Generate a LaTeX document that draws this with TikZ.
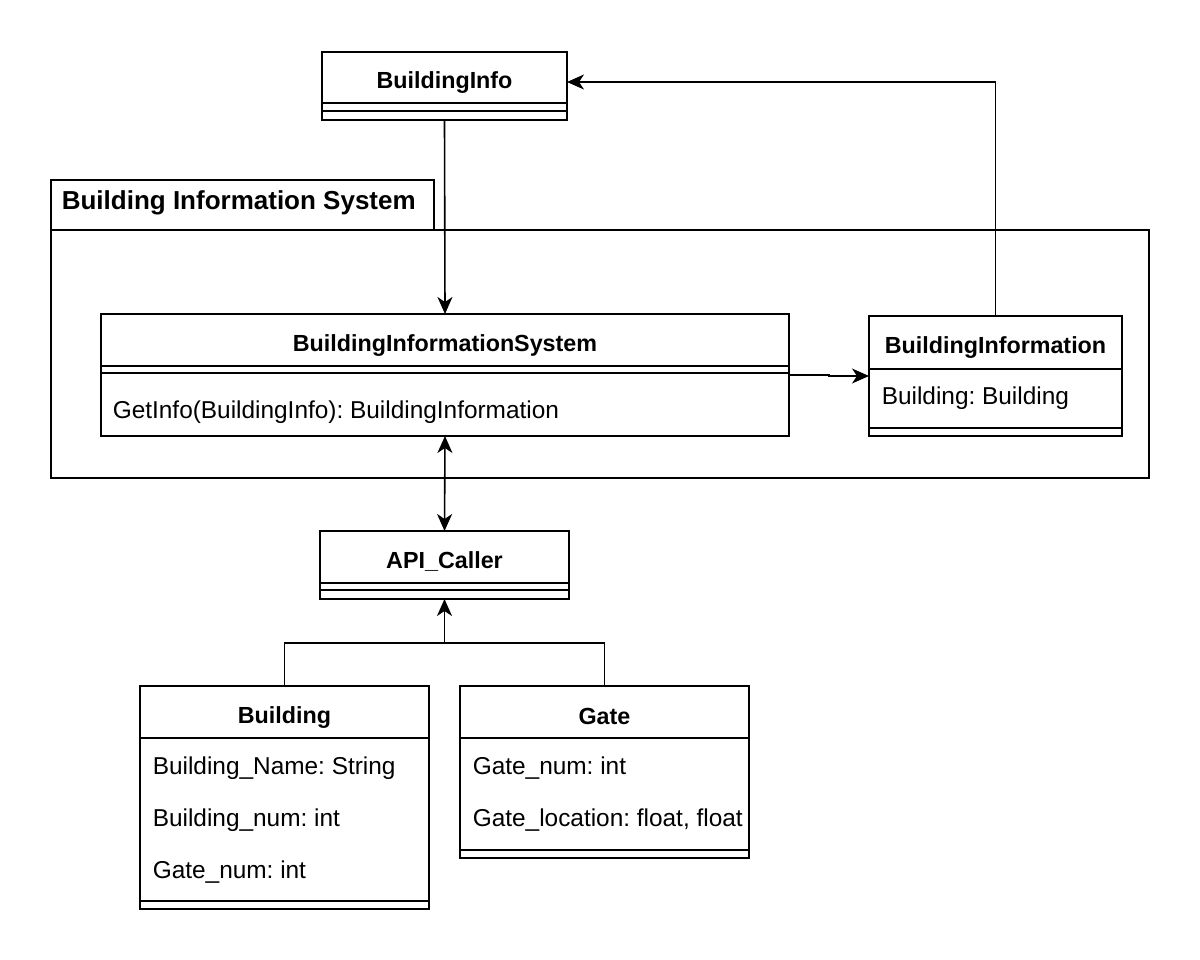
\documentclass[tikz,border=0pt]{standalone}
\usepackage{fontspec}
\setmainfont{Liberation Sans}
\usetikzlibrary{arrows.meta}
\begin{document}
\frenchspacing
\begin{tikzpicture}[x=1pt,y=-1pt, line width=1.6pt,
  box/.style={draw, rectangle, inner sep=0pt, outer sep=0pt},
  ttl/.style={font=\fontsize{23.3}{27}\selectfont\bfseries, inner sep=0pt},
  attr/.style={font=\fontsize{24.4}{28}\selectfont, anchor=west, inner sep=0pt},
  tip/.tip={Stealth[length=17pt,width=15pt,inset=5pt]},
  arr/.style={-tip}]
\useasboundingbox (0,0) rectangle (1200,960);

% package
\node[box, minimum width=383pt, minimum height=50pt] (pkgtab) at (242.5,205) {};
\node[box, minimum width=1098pt, minimum height=248pt] (pkg) at (600,354) {};
\node[ttl, anchor=west, font=\fontsize{26}{30}\selectfont\bfseries] (pkgT) at (61,203) {Building Information System};

% BuildingInfo
\node[box, minimum width=245pt, minimum height=68pt] (binfo) at (444.5,86) {};
\draw (322,103) -- (567,103);
\draw (322,111) -- (567,111);
\node[ttl] (binfoT) at (444.5,83) {BuildingInfo};

% BuildingInformationSystem
\node[box, minimum width=688pt, minimum height=122pt] (bis) at (445,375) {};
\draw (101,366) -- (789,366);
\draw (101,373) -- (789,373);
\node[ttl] (bisT) at (445,346) {BuildingInformationSystem};
\node[attr] (bisA) at (112,412) {GetInfo(BuildingInfo): BuildingInformation};

% BuildingInformation
\node[box, minimum width=253pt, minimum height=120pt] (binfoC) at (995.5,376) {};
\draw (869,369) -- (1122,369);
\draw (869,428) -- (1122,428);
\node[ttl] (binfoCT) at (995.5,348) {BuildingInformation};
\node[attr] (binfoCA) at (881,398) {Building: Building};

% API_Caller
\node[box, minimum width=249pt, minimum height=68pt] (api) at (444.5,565) {};
\draw (320,583) -- (569,583);
\draw (320,590) -- (569,590);
\node[ttl] (apiT) at (444.5,561) {API\_Caller};

% Building
\node[box, minimum width=289pt, minimum height=223pt] (bldg) at (284.5,797.5) {};
\draw (140,738) -- (429,738);
\draw (140,901) -- (429,901);
\node[ttl] (bldgT) at (284.5,718) {Building};
\node[attr] (bldgA1) at (152,768) {Building\_Name: String};
\node[attr] (bldgA2) at (152,820) {Building\_num: int};
\node[attr] (bldgA3) at (152,872) {Gate\_num: int};

% Gate
\node[box, minimum width=289pt, minimum height=172pt] (gate) at (604.5,772) {};
\draw (460,738) -- (749,738);
\draw (460,850) -- (749,850);
\node[ttl] (gateT) at (604.5,716) {Gate};
\node[attr] (gateA1) at (472,768) {Gate\_num: int};
\node[attr] (gateA2) at (472,820) {Gate\_location: float, float};

% connectors
\draw[arr] (binfo.south) -- (bis.north);
\draw[arr] (bis.east) -- ++(40,0) |- (binfoC.west);
\draw[arr] (binfoC.north) |- ([yshift=4pt]binfo.east);
\draw[tip-tip] (bis.south) -- (api.north);
\coordinate (j) at (444.5,643);
\draw (bldg.north) |- (j);
\draw (gate.north) |- (j);
\draw[arr] (j) -- (api.south);
\end{tikzpicture}
\end{document}
